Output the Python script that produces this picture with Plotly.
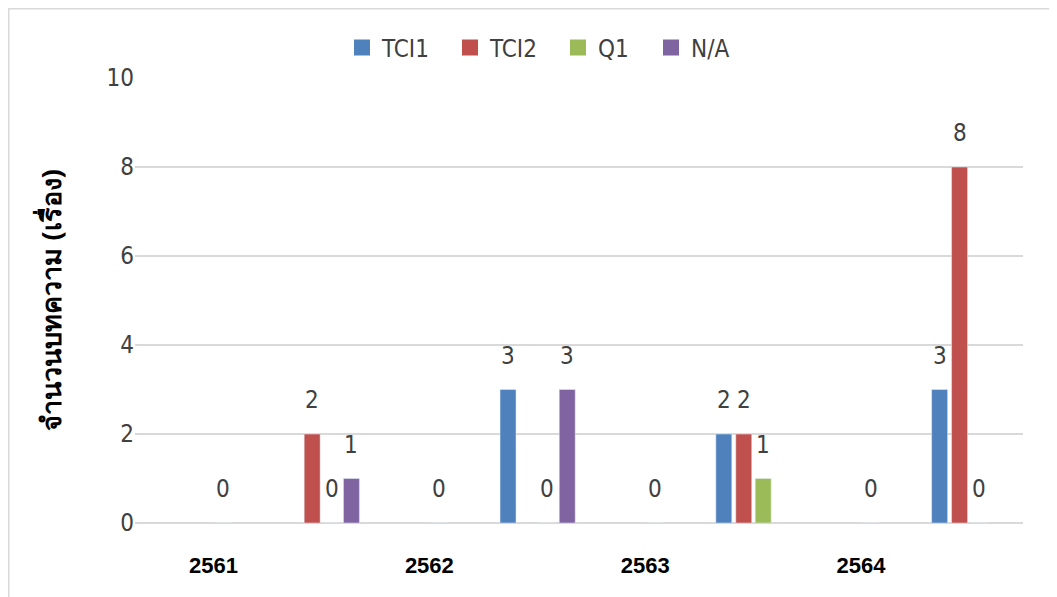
import plotly.graph_objects as go

# ---- data ----
years = [2561, 2562, 2563, 2564]
tci1 = [None, 3, 2, 3]
tci2 = [2, None, 2, 8]
q1 = [0, 0, 1, 0]
na = [1, 3, None, None]
unlabeled = [0, 0, 0, 0]   # zero-valued labels that appear left of each group

series = [
    ("TCI1", tci1, "#4F81BD"),
    ("TCI2", tci2, "#C0504D"),
    ("Q1", q1, "#9BBB59"),
    ("N/A", na, "#8064A2"),
]

# ---- style ----
L, R, T, B = 127, 42, 70, 82
PW, PH = 1057 - L - R, 597 - T - B
BAR_W = 0.074
CENTERS = [0.3646, 0.457, 0.547, 0.639]   # bar centre offset from tick (axis units)
HIDDEN_CENTER = 0.046
LEGEND_PX = [354, 462, 570, 663]           # legend symbol centres (figure px)
NARROW = "Liberation Sans Narrow, DejaVu Sans Condensed, Roboto, sans-serif"
LABEL_FONT = dict(family=NARROW, size=24, color="#404040")

fig = go.Figure()
annotations = []

legend_names = ["legend", "legend2", "legend3", "legend4"]
for (name, vals, color), c, lg in zip(series, CENTERS, legend_names):
    fig.add_trace(go.Bar(
        x=years, y=vals, name=name, marker_color=color, showlegend=False,
        width=BAR_W, offset=c - BAR_W / 2, hoverinfo="x+y+name",
    ))
    # legend entry (square swatch)
    fig.add_trace(go.Scatter(
        x=[None], y=[None], mode="markers", name=name, legend=lg,
        marker=dict(symbol="square", size=20, color=color), hoverinfo="skip",
    ))
    for xv, yv in zip(years, vals):
        if yv is None:
            continue
        annotations.append(dict(
            x=xv + c, y=yv, xref="x", yref="y", text=str(yv), showarrow=False,
            yanchor="middle", yshift=34, font=LABEL_FONT,
        ))

fig.add_trace(go.Bar(
    x=years, y=unlabeled, showlegend=False, marker_color="rgba(0,0,0,0)",
    width=BAR_W, offset=HIDDEN_CENTER - BAR_W / 2, hoverinfo="skip",
))
for xv, yv in zip(years, unlabeled):
    annotations.append(dict(
        x=xv + HIDDEN_CENTER, y=yv, xref="x", yref="y", text=str(yv), showarrow=False,
        yanchor="middle", yshift=34, font=LABEL_FONT,
    ))

# y-axis title
annotations.append(dict(
    x=(42 - L) / PW, y=0.5, xref="paper", yref="paper", text="<b>จำนวนบทความ (เรื่อง)</b>",
    textangle=-90, showarrow=False, xanchor="center", yanchor="middle",
    font=dict(family="Noto Sans, Open Sans, sans-serif", size=27, color="#000000"),
))

legend_common = dict(
    orientation="h", xanchor="left", y=1 + (T - 40) / PH, yanchor="middle",
    font=dict(family=NARROW, size=24, color="#404040"),
    bgcolor="rgba(0,0,0,0)",
)
legend_layout = {}
for lg, px in zip(legend_names, LEGEND_PX):
    legend_layout[lg] = dict(legend_common, x=(px - 20 - L) / PW)

fig.update_layout(
    width=1057, height=597,
    margin=dict(l=L, r=R, t=T, b=B, autoexpand=False),
    paper_bgcolor="white", plot_bgcolor="white",
    barmode="overlay",
    showlegend=True,
    xaxis=dict(
        range=[2560.636, 2564.751], tickmode="array", tickvals=years,
        ticktext=[f"<b>{y}</b>" for y in years],
        showgrid=False, zeroline=False, showline=False,
        ticks="outside", ticklen=23, tickcolor="rgba(0,0,0,0)",
        tickfont=dict(family="Liberation Sans, Arial, sans-serif", size=22, color="#000000"),
    ),
    yaxis=dict(
        range=[0, 10], dtick=2, showgrid=True, gridcolor="#d9d9d9", gridwidth=1.5,
        zeroline=True, zerolinecolor="#d9d9d9", zerolinewidth=1.5, showline=False,
        ticks="", tickfont=dict(family=NARROW, size=24, color="#404040"),
    ),
    annotations=annotations,
    shapes=[dict(
        type="rect", xref="paper", yref="paper",
        x0=(0.75 - L) / PW, x1=1.3, y0=-0.5, y1=1 + (T - 0.75) / PH,
        line=dict(color="#d9d9d9", width=1.5), fillcolor="rgba(0,0,0,0)", layer="below",
    )],
    **legend_layout,
)

fig.write_html("out.html")
